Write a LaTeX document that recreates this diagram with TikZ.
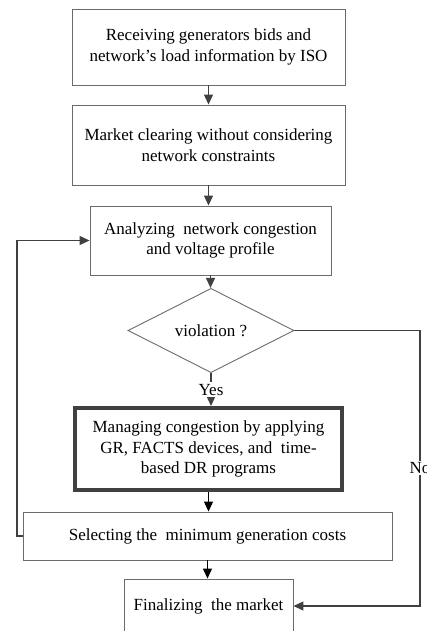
\documentclass[tikz,border=0pt]{standalone}
\usepackage{fontspec}
\setmainfont{Liberation Serif}
\usetikzlibrary{arrows.meta, positioning, shapes.geometric, shadows}
\definecolor{lineGray}{gray}{0.25}
\definecolor{boxGray}{gray}{0.42}
\definecolor{shadeGray}{gray}{0.8}

\tikzset{
  flowBox/.style={draw=boxGray, line width=0.9pt, align=center, inner sep=0pt,
    font=\fontsize{17pt}{20.5pt}\selectfont},
  keyBox/.style={flowBox, draw=lineGray, fill=white, line width=4pt,
    drop shadow={shadow xshift=2pt, shadow yshift=-2pt, fill=shadeGray}},
  testBox/.style={flowBox, diamond, minimum width=166pt, minimum height=69pt},
  flowLabel/.style={fill=white, inner sep=1.5pt, font=\fontsize{17pt}{20.5pt}\selectfont}
}

\begin{document}
\begin{tikzpicture}[x=1pt, y=-1pt, >={Triangle[length=10pt, width=9pt]}]
    \useasboundingbox (0,0) rectangle (427,631);

    % steps of the market
    \node[flowBox, minimum width=273pt, minimum height=76pt] (recv) at (208.5,47)
        {Receiving generators bids and\\network’s load information by ISO};
    \node[flowBox, minimum width=273pt, minimum height=80pt] (clear) at (208.5,145)
        {Market clearing without considering\\network constraints};
    \node[flowBox, minimum width=241pt, minimum height=69pt] (analyz) at (210.5,240.5)
        {Analyzing\ \ network congestion\\and voltage profile};
    \node[testBox] (viol) at (211,330.5) {violation ?};
    \node[keyBox, minimum width=267pt, minimum height=82pt] (manage) at (208.5,449)
        {Managing congestion by applying\\GR, FACTS devices, and\ \ time-\\based DR programs};
    \node[flowBox, minimum width=369pt, minimum height=48pt] (select) at (207.5,536)
        {Selecting the\ \ minimum generation costs};
    \node[flowBox, minimum width=169pt, minimum height=54pt] (final) at (208.5,606)
        {Finalizing\ \ the market};

    % corners of the two loops
    \coordinate (backCorner) at (17,536);
    \coordinate (noCorner) at (420,330.5);

    \begin{scope}[draw=lineGray, line width=1.2pt]
        \draw[->] (recv) -- (recv |- clear.north);
        \draw[->] (clear) -- (clear |- analyz.north);
        \draw[->] (analyz) -- (analyz |- viol.north);
        \draw[->] (viol.south) -- node[flowLabel] {Yes} (viol |- manage.north);
        \draw[->] (select.west) -- (backCorner) |- (analyz.west);
        \draw[->] (viol.east) -- (noCorner) |- node[flowLabel, pos=0.25] {No} (final.east);
    \end{scope}
    \draw[->, black, line width=1.2pt] (manage) -- (manage |- select.north);
    \draw[->, black, line width=1.2pt] (select) -- (select |- final.north);
\end{tikzpicture}
\end{document}
